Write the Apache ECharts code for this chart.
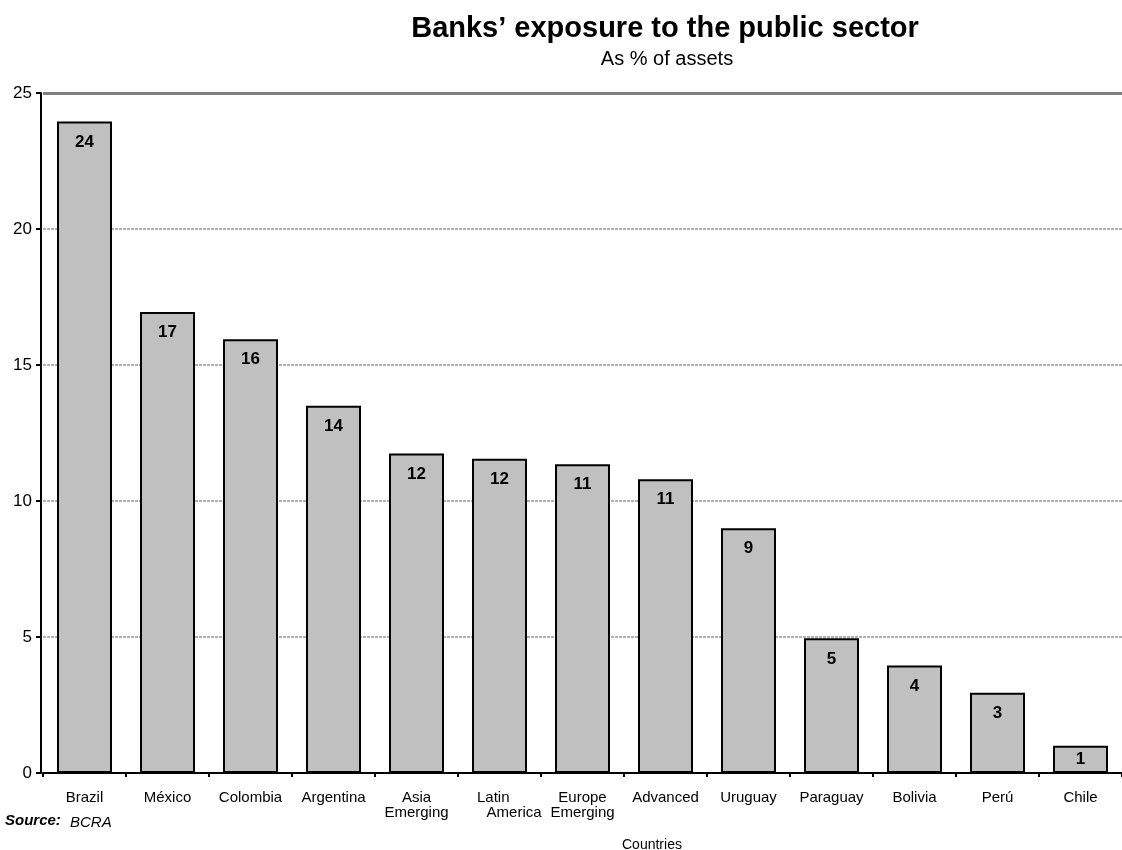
<!DOCTYPE html>
<html>
<head>
<meta charset="utf-8">
<script src="https://cdn.jsdelivr.net/npm/echarts@6/dist/echarts.min.js"></script>
<style>html,body{margin:0;padding:0;background:#fff}#c{width:1122px;height:850px}</style>
</head>
<body>
<div id="c"></div>
<script>
const categories = ['Brazil', 'México', 'Colombia', 'Argentina', 'Asia\nEmerging', 'Latin\u00a0\u00a0\u00a0\n\u00a0\u00a0\u00a0\u00a0\u00a0\u00a0\u00a0America', 'Europe\nEmerging', 'Advanced', 'Uruguay', 'Paraguay', 'Bolivia', 'Perú', 'Chile'];
const values = [23.95, 16.95, 15.95, 13.5, 11.75, 11.55, 11.35, 10.8, 9.0, 4.95, 3.95, 2.95, 1.0];
const yTicks = [0, 5, 10, 15, 20, 25];
const titleText = 'Banks’ exposure to the public sector';
const subtitleText = 'As % of assets';
const xName = 'Countries';

const FONT = '"Liberation Sans", Arial, sans-serif';
const barData = values.map(v => v < 2 ? {value: v, label: {distance: 5}} : v);
const chart = echarts.init(document.getElementById('c'), null, {renderer: 'canvas'});
chart.setOption({
  animation: false,
  backgroundColor: '#fff',
  title: [
    {text: titleText, left: 660, top: 9, textAlign: 'center',
     textStyle: {fontFamily: FONT, fontSize: 29, fontWeight: 'bold', color: '#000'}},
    {text: subtitleText, left: 662, top: 44, textAlign: 'center',
     textStyle: {fontFamily: FONT, fontSize: 20, fontWeight: 'normal', color: '#000'}}
  ],
  grid: {left: 43, width: 1090, top: 93, bottom: 77, containLabel: false},
  xAxis: {
    type: 'category', data: categories,
    axisLine: {show: true, lineStyle: {color: '#000', width: 2}},
    axisTick: {show: true, length: 4, lineStyle: {color: '#000', width: 2}},
    axisLabel: {fontFamily: FONT, fontSize: 15, color: '#000', margin: 17, lineHeight: 15, interval: 0}
  },
  yAxis: {
    type: 'value', min: yTicks[0], max: yTicks[yTicks.length - 1], interval: 5, offset: 2,
    axisLine: {show: true, lineStyle: {color: '#000', width: 2}},
    axisTick: {show: true, length: 5, lineStyle: {color: '#000', width: 2}},
    axisLabel: {fontFamily: FONT, fontSize: 17, color: '#000', margin: 9},
    splitLine: {show: true, lineStyle: {color: '#b0b0b0', width: 2, type: [3, 1]}}
  },
  series: [{
    type: 'bar', data: barData, barWidth: 55,
    itemStyle: {color: '#c0c0c0', borderColor: '#000', borderWidth: 2},
    label: {show: true, position: 'insideTop', distance: 12,
      formatter: p => Math.round(p.value),
      fontFamily: FONT, fontSize: 17, fontWeight: 'bold', color: '#000'},
    markLine: {silent: true, symbol: 'none', label: {show: false},
      lineStyle: {color: '#808080', width: 3, type: 'solid'},
      data: [{yAxis: yTicks[yTicks.length - 1]}]}
  }],
  graphic: [
    {type: 'text', left: 622, top: 838, style: {text: xName, font: '14px ' + FONT, fill: '#000'}},
    {type: 'text', left: 5, top: 813, style: {text: 'Source:', font: 'italic bold 15px ' + FONT, fill: '#000'}},
    {type: 'text', left: 70, top: 815, style: {text: 'BCRA', font: 'italic 15px ' + FONT, fill: '#000'}}
  ]
});
</script>
</body>
</html>
